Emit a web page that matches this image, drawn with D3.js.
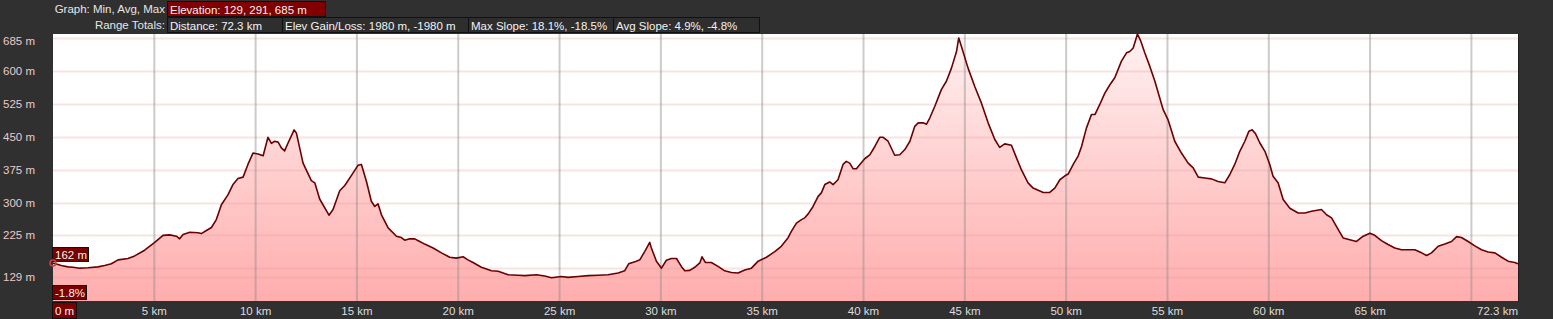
<!DOCTYPE html>
<html>
<head>
<meta charset="utf-8">
<script src="https://cdn.jsdelivr.net/npm/d3@7"></script>
<style>
  html, body { margin: 0; padding: 0; background: #303030; }
  svg { display: block; font-family: "Liberation Sans", Arial, sans-serif; }
</style>
</head>
<body>
<svg id="chart" width="1553" height="319"></svg>
<script>
// elevation profile
const distanceKm = [
  0, 0.41, 0.74, 0.99, 1.32, 1.73, 2.22, 2.55, 2.88, 3.21, 3.70, 4.03, 4.52, 4.99,
  5.43, 5.76, 6.09, 6.25, 6.42, 6.75, 7.16, 7.32, 7.57, 7.82, 8.06, 8.31, 8.64, 8.88,
  9.13, 9.38, 9.62, 9.87, 10.12, 10.37, 10.61, 10.78, 10.94, 11.11, 11.27, 11.43, 11.60,
  11.90, 12.01, 12.34, 12.75, 12.92, 13.16, 13.62, 13.82, 14.15, 14.40, 14.73, 15.05,
  15.22, 15.47, 15.71, 15.88, 16.04, 16.21, 16.54, 16.95, 17.19, 17.36, 17.60, 17.85,
  18.10, 18.34, 18.76, 19.17, 19.58, 19.91, 20.24, 20.48, 20.73, 21.14, 21.64, 21.97,
  22.46, 22.95, 23.28, 23.86, 24.27, 24.60, 25.09, 25.42, 25.91, 26.41, 26.90, 27.39,
  27.89, 28.21, 28.41, 28.79, 28.96, 29.20, 29.45, 29.53, 29.78, 30.03, 30.27, 30.52,
  30.77, 31.01, 31.18, 31.43, 31.67, 31.92, 32.03, 32.20, 32.49, 32.82, 33.15, 33.48,
  33.81, 34.14, 34.47, 34.80, 35.21, 35.62, 35.94, 36.27, 36.44, 36.69, 36.94, 37.10,
  37.27, 37.51, 37.76, 37.92, 38.09, 38.33, 38.50, 38.74, 38.99, 39.15, 39.32, 39.49,
  39.65, 39.82, 40.06, 40.31, 40.56, 40.80, 40.97, 41.21, 41.54, 41.79, 42.04, 42.29,
  42.53, 42.70, 42.94, 43.11, 43.27, 43.52, 43.84, 44.09, 44.34, 44.59, 44.70, 44.83,
  45.16, 45.49, 45.82, 46.15, 46.48, 46.72, 46.97, 47.30, 47.55, 47.79, 48.12, 48.37,
  48.62, 48.87, 49.19, 49.44, 49.69, 49.94, 50.10, 50.35, 50.59, 50.76, 51.00, 51.25,
  51.42, 51.66, 51.91, 52.16, 52.40, 52.73, 52.98, 53.14, 53.31, 53.52, 53.69, 53.88,
  54.13, 54.38, 54.62, 54.79, 55.03, 55.36, 55.69, 56.02, 56.27, 56.52, 56.84, 57.17,
  57.50, 57.83, 58.08, 58.32, 58.57, 58.82, 59.02, 59.18, 59.35, 59.56, 59.81, 60.05,
  60.21, 60.46, 60.71, 61.04, 61.45, 61.78, 62.11, 62.60, 62.85, 63.10, 63.43, 63.67,
  64.00, 64.33, 64.66, 64.99, 65.23, 65.56, 65.89, 66.22, 66.55, 66.88, 67.21, 67.54,
  67.79, 68.03, 68.36, 68.69, 69.02, 69.27, 69.51, 69.84, 70.17, 70.50, 70.83, 71.16,
  71.49, 71.81, 72.14, 72.30
];
const elevationM = [
  162, 156, 153, 152, 150, 151, 153, 156, 160, 169, 172, 178, 191, 208,
  225, 226, 223, 217, 227, 232, 231, 229, 236, 243, 261, 295, 318, 341,
  355, 358, 387, 413, 411, 407, 449, 435, 440, 438, 425, 418, 436,
  466, 459, 390, 350, 345, 308, 271, 284, 327, 339, 362, 385,
  387, 348, 303, 291, 297, 272, 242, 223, 220, 214, 217, 217,
  211, 205, 196, 185, 175, 173, 176, 169, 163, 152, 144, 143,
  135, 134, 133, 135, 132, 128, 131, 129, 131, 133, 134, 135,
  139, 144, 160, 166, 169, 188, 209, 196, 166, 150, 168, 172,
  172, 154, 144, 145, 152, 162, 176, 163, 163, 154, 144, 140,
  139, 146, 150, 166, 175, 188, 200, 219, 234, 253, 261, 265,
  274, 291, 314, 322, 341, 347, 341, 352, 387, 394, 390, 377,
  377, 387, 400, 409, 428, 449, 449, 440, 408, 409, 421, 440,
  474, 482, 482, 479, 493, 520, 558, 577, 607, 645, 676, 657,
  607, 565, 527, 482, 444, 426, 434, 431, 402, 375, 345, 333,
  328, 323, 323, 333, 352, 361, 365, 387, 406, 428, 470, 501,
  501, 524, 550, 569, 585, 623, 642, 645, 653, 685, 668, 642,
  611, 577, 539, 512, 489, 440, 413, 390, 379, 358, 356, 354,
  348, 345, 364, 387, 417, 440, 463, 466, 457, 436, 417, 387,
  360, 345, 307, 287, 276, 276, 280, 284, 272, 265, 238, 219,
  215, 211, 223, 230, 225, 213, 204, 196, 192, 192, 192, 185,
  179, 185, 200, 205, 211, 222, 220, 211, 201, 192, 187, 185,
  175, 166, 163, 160
];

// axis ticks
const yGridValues = [129, 150, 225, 300, 375, 450, 525, 600, 675];
const yTickLabels = ['129 m', '225 m', '300 m', '375 m', '450 m', '525 m', '600 m', '685 m'];
const yTickValues = [129, 225, 300, 375, 450, 525, 600, 675];
const xGridValues = [5, 10, 15, 20, 25, 30, 35, 40, 45, 50, 55, 60, 65, 70];
const xTickValues = [5, 10, 15, 20, 25, 30, 35, 40, 45, 50, 55, 60, 65];
const xTickLabels = xTickValues.map(d => d + ' km');

// header boxes
const headerRow1 = ['Elevation: 129, 291, 685 m'];
const headerRow2 = ['Distance: 72.3 km', 'Elev Gain/Loss: 1980 m, -1980 m', 'Max Slope: 18.1%, -18.5%', 'Avg Slope: 4.9%, -4.8%'];
const headerRow2Widths = [115, 186, 145, 146];

const svg = d3.select('#chart');
const plotLeft = 53, plotRight = 1518, plotTop = 34, plotBottom = 301;

const x = d3.scaleLinear().domain([0, 72.3]).range([plotLeft, plotRight]);
const y = d3.scaleLinear().domain([75, 685]).range([plotBottom, plotTop]);

const pts = distanceKm.map((d, i) => [d, elevationM[i]]);

// plot background
svg.append('rect')
  .attr('x', plotLeft).attr('y', plotTop)
  .attr('width', plotRight - plotLeft).attr('height', plotBottom - plotTop)
  .attr('fill', '#ffffff');

const defs = svg.append('defs');
const grad = defs.append('linearGradient')
  .attr('id', 'fillGrad')
  .attr('gradientUnits', 'userSpaceOnUse')
  .attr('x1', 0).attr('x2', 0).attr('y1', plotTop).attr('y2', plotBottom);
grad.append('stop').attr('offset', '0%').attr('stop-color', '#fff2f2');
grad.append('stop').attr('offset', '100%').attr('stop-color', '#ffadad');

const area = d3.area()
  .x(d => x(d[0]))
  .y0(plotBottom)
  .y1(d => y(d[1]));

svg.append('path')
  .datum(pts)
  .attr('d', area)
  .attr('fill', 'url(#fillGrad)');

// grid
svg.append('g')
  .selectAll('line')
  .data(yGridValues)
  .join('line')
  .attr('x1', plotLeft).attr('x2', plotRight)
  .attr('y1', d => Math.round(y(d)) + 0.5).attr('y2', d => Math.round(y(d)) + 0.5)
  .attr('stroke', 'rgba(235,150,150,0.28)')
  .attr('stroke-width', 2);

svg.append('g')
  .selectAll('line')
  .data(xGridValues)
  .join('line')
  .attr('x1', d => x(d)).attr('x2', d => x(d))
  .attr('y1', plotTop).attr('y2', plotBottom)
  .attr('stroke', 'rgba(140,140,140,0.45)')
  .attr('stroke-width', 2);

const line = d3.line()
  .x(d => x(d[0]))
  .y(d => y(d[1]));

svg.append('path')
  .datum(pts)
  .attr('d', line)
  .attr('fill', 'none')
  .attr('stroke', '#6a0000')
  .attr('stroke-width', 1.6)
  .attr('stroke-linejoin', 'round');

// right border of plot
svg.append('line')
  .attr('x1', plotRight + 0.5).attr('x2', plotRight + 0.5)
  .attr('y1', plotTop).attr('y2', plotBottom + 1)
  .attr('stroke', '#1e1e1e').attr('stroke-width', 1);

// y labels
svg.append('g')
  .selectAll('text')
  .data(yTickValues)
  .join('text')
  .attr('x', 3)
  .attr('y', d => d === 675 ? y(d) + 3 : y(d))
  .attr('dy', '0.35em')
  .attr('font-size', 11.5)
  .attr('fill', '#e8caca')
  .text((d, i) => yTickLabels[i]);

// x labels
svg.append('g')
  .selectAll('text')
  .data(xTickValues)
  .join('text')
  .attr('x', d => x(d))
  .attr('y', 311)
  .attr('dy', '0.35em')
  .attr('text-anchor', 'middle')
  .attr('font-size', 11.5)
  .attr('fill', '#dddddd')
  .text((d, i) => xTickLabels[i]);

svg.append('text')
  .attr('x', plotRight).attr('y', 311).attr('dy', '0.35em')
  .attr('text-anchor', 'end')
  .attr('font-size', 11.5).attr('fill', '#dddddd')
  .text('72.3 km');

// label boxes
function tag(x0, y0, w, h, txt, fill) {
  svg.append('rect')
    .attr('x', x0 + 0.5).attr('y', y0 + 0.5)
    .attr('width', w).attr('height', h)
    .attr('fill', fill).attr('stroke', '#111').attr('stroke-width', 1);
  svg.append('text')
    .attr('x', x0 + 3).attr('y', y0 + h / 2 + 1).attr('dy', '0.35em')
    .attr('font-size', 11.5).attr('fill', '#f2f2f2')
    .text(txt);
}

tag(52, 302, 24, 16, '0 m', '#7a0000');
tag(52, 247, 36, 14, '162 m', '#7a0000');
tag(52, 285, 34, 14, '-1.8%', '#7a0000');

// cursor marker
svg.append('circle')
  .attr('cx', x(0)).attr('cy', y(elevationM[0]))
  .attr('r', 3).attr('fill', 'none')
  .attr('stroke', '#d04040').attr('stroke-width', 1.5);

// header
svg.append('text')
  .attr('x', 165).attr('y', 9).attr('dy', '0.35em')
  .attr('text-anchor', 'end').attr('font-size', 11.5).attr('fill', '#e6e6e6')
  .text('Graph: Min, Avg, Max');
svg.append('text')
  .attr('x', 165).attr('y', 25).attr('dy', '0.35em')
  .attr('text-anchor', 'end').attr('font-size', 11.5).attr('fill', '#e6e6e6')
  .text('Range Totals:');

tag(167, 1, 158, 15, headerRow1[0], '#800000');
let hx = 167;
headerRow2.forEach((t, i) => {
  tag(hx, 17, headerRow2Widths[i], 15, t, '#2e2e2e');
  hx += headerRow2Widths[i];
});
</script>
</body>
</html>
